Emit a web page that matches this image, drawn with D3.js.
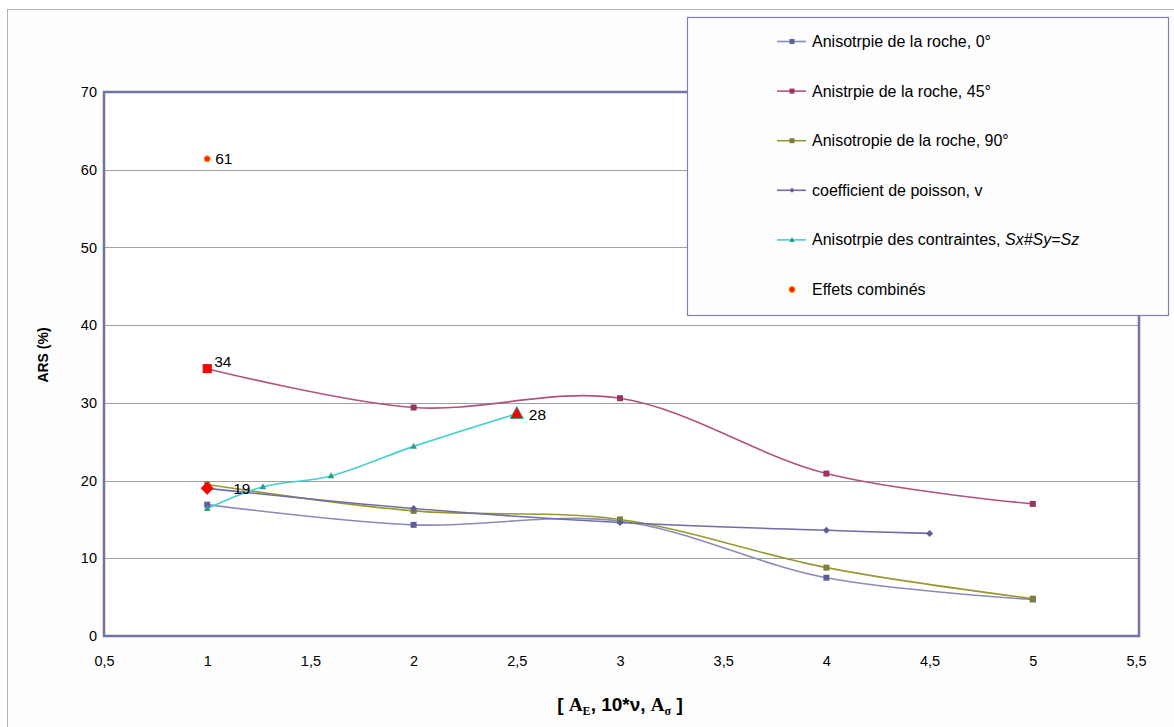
<!DOCTYPE html>
<html><head><meta charset="utf-8">
<script src="https://cdn.jsdelivr.net/npm/d3@7"></script>
<style>body{margin:0;background:#fff}svg{display:block;font-family:"Liberation Sans",Arial,sans-serif}</style>
</head><body><svg id="c" width="1174" height="727"></svg>
<script>
const xTicks = [0.5,1,1.5,2,2.5,3,3.5,4,4.5,5,5.5];
const yTicks = [0,10,20,30,40,50,60,70];
const seriesNames = ["Anisotrpie de la roche, 0°","Anistrpie de la roche, 45°","Anisotropie de la roche, 90°","coefficient de poisson, v","Anisotrpie des contraintes, Sx#Sy=Sz","Effets combinés"];
const roche0X = [1,2,3,4,5];
const roche0Y = [16.9,14.3,14.8,7.5,4.7];
const roche45X = [1,2,3,4,5];
const roche45Y = [34.4,29.4,30.6,20.9,17.0];
const roche90X = [1,2,3,4,5];
const roche90Y = [19.5,16.1,15.0,8.8,4.8];
const poissonX = [1,2,3,4,4.5];
const poissonY = [19.0,16.4,14.6,13.6,13.2];
const contrX = [1,1.27,1.6,2,2.5];
const contrY = [16.4,19.2,20.6,24.4,28.6];
const combX = [1];
const combY = [61.4];
const dataLabels = [{x:1,y:61.4,t:"61"},{x:1,y:34.4,t:"34"},{x:1,y:19.0,t:"19"},{x:2.5,y:28.6,t:"28"}];

const svg = d3.select("#c");
const L=104, R=1136, T=92, B=636;
const x = d3.scaleLinear().domain([0.5,5.5]).range([L,R]);
const y = d3.scaleLinear().domain([0,70]).range([B,T]);

// outer chart frame
svg.append("rect").attr("x",7.5).attr("y",9.5).attr("width",1180).attr("height",730)
  .attr("fill","#fdfdfd").attr("stroke","#b4b4b4");
// plot area
svg.append("rect").attr("x",L).attr("y",T).attr("width",1139-L).attr("height",B-T).attr("fill","#fff");
// gridlines
svg.append("g").selectAll("line").data(yTicks.filter(d=>d>0&&d<70)).join("line")
  .attr("x1",L).attr("x2",1139).attr("y1",d=>Math.round(y(d))+0.5).attr("y2",d=>Math.round(y(d))+0.5)
  .attr("stroke","#a0a0a0").attr("stroke-width",1.2);
// axes
const yAxis = d3.axisLeft(y).tickValues(yTicks).tickSize(0).tickPadding(7).tickFormat(d3.format("d"));
const gy = svg.append("g").attr("transform",`translate(${L},0)`).call(yAxis);
gy.select(".domain").remove();
gy.selectAll("text").attr("font-size",14.5).attr("fill","#000").attr("font-family","Liberation Sans, Arial");
const xAxis = d3.axisBottom(x).tickValues(xTicks).tickSize(0).tickPadding(20).tickFormat(d=>String(d).replace(".",","));
const gx = svg.append("g").attr("transform",`translate(0,${B})`).call(xAxis);
gx.select(".domain").remove();
gx.selectAll("text").attr("font-size",14.5).attr("fill","#000").attr("font-family","Liberation Sans, Arial");
// plot border
svg.append("rect").attr("x",L).attr("y",T).attr("width",1139-L).attr("height",B-T)
  .attr("fill","none").attr("stroke","#7474a2").attr("stroke-width",2.5);

const line = d3.line().x(d=>x(d[0])).y(d=>y(d[1])).curve(d3.curveCatmullRom.alpha(0.5));
const zip = (a,b)=>a.map((v,i)=>[v,b[i]]);
const series = [
  {pts:zip(roche0X,roche0Y), line:"#8a8abd", mk:"#5f5f98", shape:"sq"},
  {pts:zip(roche45X,roche45Y), line:"#b2527e", mk:"#993366", shape:"sq"},
  {pts:zip(roche90X,roche90Y), line:"#98982e", mk:"#7f7f3a", shape:"sq"},
  {pts:zip(poissonX,poissonY), line:"#6e6ea6", mk:"#5f5f98", shape:"dia"},
  {pts:zip(contrX,contrY), line:"#44d0d0", mk:"#2a9e8e", shape:"tri"}
];
const g = svg.append("g");
function marker(sel, shape, cx, cy, s, fill, stroke){
  if(shape==="sq") sel.append("rect").attr("x",cx-s/2).attr("y",cy-s/2).attr("width",s).attr("height",s).attr("fill",fill).attr("stroke",stroke||"none");
  else if(shape==="dia") sel.append("path").attr("d",`M${cx},${cy-s/2}L${cx+s/2},${cy}L${cx},${cy+s/2}L${cx-s/2},${cy}Z`).attr("fill",fill).attr("stroke",stroke||"none");
  else if(shape==="tri") sel.append("path").attr("d",`M${cx},${cy-s*0.6}L${cx+s*0.55},${cy+s*0.4}L${cx-s*0.55},${cy+s*0.4}Z`).attr("fill",fill).attr("stroke",stroke||"none");
  else if(shape==="dot") sel.append("circle").attr("cx",cx).attr("cy",cy).attr("r",s/2).attr("fill",fill).attr("stroke",stroke||"none");
}
series.forEach(s=>{
  g.append("path").datum(s.pts).attr("d",line).attr("fill","none").attr("stroke",s.line).attr("stroke-width",1.6);
});
series.forEach(s=>{
  s.pts.forEach(p=>marker(g,s.shape,x(p[0]),y(p[1]),s.shape==="dia"?7:6,s.mk));
});
// highlighted points
marker(g,"sq",x(roche45X[0]),y(roche45Y[0]),8,"#ff0000","#e00000");
marker(g,"dia",x(poissonX[0]),y(poissonY[0]),13,"#ff0000");
marker(g,"tri",x(contrX[contrX.length-1]),y(contrY[contrY.length-1]),12,"#ff0000","#33aaaa");
zip(combX,combY).forEach(p=>marker(g,"dot",x(p[0]),y(p[1]),6,"#ff2000","#ff9900"));
// data labels
const lblOff = {"61":[8,5],"34":[7,-2],"19":[26,6],"28":[12,6]};
svg.append("g").selectAll("text").data(dataLabels).join("text")
  .attr("x",d=>x(d.x)+lblOff[d.t][0]).attr("y",d=>y(d.y)+lblOff[d.t][1])
  .attr("font-size",15.5).attr("fill","#000").text(d=>d.t);

// axis titles
svg.append("text").attr("transform","translate(48,355) rotate(-90)").attr("text-anchor","middle")
  .attr("font-size",14).attr("font-weight","bold").text("ARS (%)");
const xt = svg.append("text").attr("x",620).attr("y",711).attr("text-anchor","middle")
  .attr("font-size",19).attr("font-weight","bold").attr("font-family","Liberation Sans, Arial");
xt.append("tspan").text("[ ");
xt.append("tspan").attr("font-family","Liberation Serif, Times New Roman").text("A");
xt.append("tspan").attr("font-family","Liberation Serif").attr("font-size",12).attr("dy",4).text("E");
xt.append("tspan").attr("dy",-4).text(", 10*ν, ");
xt.append("tspan").attr("font-family","Liberation Serif").text("A");
xt.append("tspan").attr("font-family","Liberation Serif").attr("font-size",12).attr("dy",4).text("σ");
xt.append("tspan").attr("dy",-4).text(" ]");

// legend
const lg = svg.append("g");
lg.append("rect").attr("x",687.5).attr("y",17.5).attr("width",481).attr("height",298)
  .attr("fill","#fdfdfd").attr("stroke","#8080b0").attr("stroke-width",1.2);
const legStyles = [
  {line:"#8a8abd",mk:"#5f5f98",shape:"sq"},
  {line:"#b2527e",mk:"#993366",shape:"sq"},
  {line:"#98982e",mk:"#7f7f3a",shape:"sq"},
  {line:"#6e6ea6",mk:"#5f5f98",shape:"dia"},
  {line:"#44d0d0",mk:"#2a9e8e",shape:"tri"},
  {line:null,mk:"#ff2000",shape:"dot"}
];
seriesNames.forEach((n,i)=>{
  const cy = 41.5 + i*49.6;
  const st = legStyles[i];
  if(st.line) lg.append("line").attr("x1",777).attr("x2",806).attr("y1",cy).attr("y2",cy).attr("stroke",st.line).attr("stroke-width",1.6);
  if(st.shape==="dot") marker(lg,"dot",792,cy,6,"#ff2000","#ff9900");
  else marker(lg,st.shape,792,cy,5,st.mk);
  const t = lg.append("text").attr("x",812).attr("y",cy+5.5).attr("font-size",16).attr("fill","#000");
  if(i===4){ t.append("tspan").text("Anisotrpie des contraintes, "); t.append("tspan").attr("font-style","italic").text("Sx#Sy=Sz"); }
  else t.text(n);
});
</script></body></html>
